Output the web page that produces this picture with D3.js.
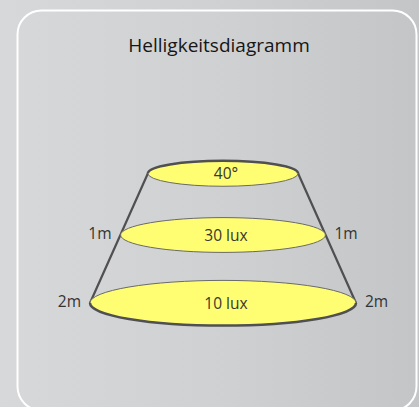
<!DOCTYPE html>
<html>
<head>
<meta charset="utf-8">
<script src="https://cdn.jsdelivr.net/npm/d3@7"></script>
<style>
  html, body { margin: 0; padding: 0; background: #d0d1d3; }
  svg { display: block; }
</style>
</head>
<body>
<div id="svg-container"></div>
<script>
////////////////////////////////////////////////////////////////////
////////////////////////////  Data  ////////////////////////////////
const distances = [0, 1, 2];                 // m below the lamp
const distanceLabels = ["", "1m", "2m"];
const spotLabels = ["40°", "30 lux", "10 lux"];
const spotDiameters = [1.13, 1.54, 2.0];     // relative spot width
const title = "Helligkeitsdiagramm";

////////////////////////////////////////////////////////////////////
////////////////////////////  Init  ////////////////////////////////
const width = 419;
const height = 407;

const svg = d3.select("#svg-container").append("svg")
  .attr("width", width)
  .attr("height", height);

// background gradient
const defs = svg.append("defs");
const grad = defs.append("linearGradient")
  .attr("id", "bg")
  .attr("x1", "0%").attr("x2", "100%")
  .attr("y1", "0%").attr("y2", "0%");
grad.append("stop").attr("offset", "0%").attr("stop-color", "#d7d8da");
grad.append("stop").attr("offset", "55%").attr("stop-color", "#cfd0d2");
grad.append("stop").attr("offset", "100%").attr("stop-color", "#c4c5c7");

svg.append("rect")
  .attr("width", width)
  .attr("height", height)
  .attr("fill", "url(#bg)");

// white frame
svg.append("rect")
  .attr("x", 17.5)
  .attr("y", 10.5)
  .attr("width", 399)
  .attr("height", 400)
  .attr("rx", 24)
  .attr("fill", "none")
  .attr("stroke", "#ffffff")
  .attr("stroke-width", 2);

// title
svg.append("text")
  .attr("x", 219)
  .attr("y", 52)
  .attr("text-anchor", "middle")
  .attr("font-family", "Open Sans, sans-serif")
  .attr("font-size", 19)
  .attr("fill", "#161616")
  .text(title);

// scales
const cx = 223;
const yScale = d3.scaleLinear().domain(distances).range([173.5, 235, 303]);
const wScale = d3.scaleLinear().domain([0, 2]).range([0, 266]);

const spots = distances.map((d, i) => ({
  d,
  label: spotLabels[i],
  dist: distanceLabels[i],
  cy: yScale(d),
  rx: wScale(spotDiameters[i]) / 2,
  ry: wScale(spotDiameters[i]) / 2 * 0.17
}));

const first = spots[0];
const last = spots[spots.length - 1];

// cone sides
const g = svg.append("g");
[-1, 1].forEach((s) => {
  g.append("line")
    .attr("x1", cx + s * first.rx)
    .attr("y1", first.cy)
    .attr("x2", cx + s * last.rx)
    .attr("y2", last.cy)
    .attr("stroke", "#505052")
    .attr("stroke-width", 2.2)
    .attr("stroke-linecap", "round");
});

// spots
g.selectAll("ellipse.spot")
  .data(spots)
  .join("ellipse")
  .attr("class", "spot")
  .attr("cx", cx)
  .attr("cy", (d) => d.cy)
  .attr("rx", (d) => d.rx)
  .attr("ry", (d) => d.ry)
  .attr("fill", "#fffd72")
  .attr("stroke", "#6a6a68")
  .attr("stroke-width", 1);

const halfArc = (d, upper) =>
  `M${cx - d.rx},${d.cy} A${d.rx},${d.ry} 0 0 ${upper ? 1 : 0} ${cx + d.rx},${d.cy}`;

// thick outline: back of the top spot, front of the bottom spot
g.append("path")
  .attr("d", halfArc(first, true))
  .attr("fill", "none")
  .attr("stroke", "#505052")
  .attr("stroke-width", 2.5);
g.append("path")
  .attr("d", halfArc(last, false))
  .attr("fill", "none")
  .attr("stroke", "#505052")
  .attr("stroke-width", 2.5);

// spot labels
g.selectAll("text.spot-label")
  .data(spots)
  .join("text")
  .attr("class", "spot-label")
  .attr("x", cx + 3)
  .attr("y", (d) => d.cy + 5.5)
  .attr("text-anchor", "middle")
  .attr("font-family", "Open Sans, sans-serif")
  .attr("font-size", 15.5)
  .attr("fill", "#383830")
  .text((d) => d.label);

// distance labels
const distSpots = spots.filter((d) => d.dist);
[-1, 1].forEach((s) => {
  g.selectAll(null)
    .data(distSpots)
    .join("text")
    .attr("x", (d) => cx + s * (d.rx + 9))
    .attr("y", (d) => d.cy + 4)
    .attr("text-anchor", s < 0 ? "end" : "start")
    .attr("font-family", "Open Sans, sans-serif")
    .attr("font-size", 15.5)
    .attr("fill", "#333333")
    .text((d) => d.dist);
});
</script>
</body>
</html>
